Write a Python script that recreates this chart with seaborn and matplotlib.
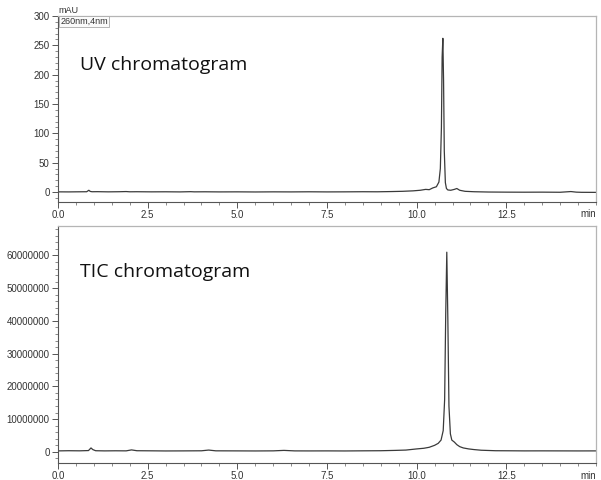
import numpy as np
import pandas as pd
import matplotlib
matplotlib.use("Agg")
import matplotlib.pyplot as plt
import matplotlib.ticker as ticker
import seaborn as sns

# UV trace (260 nm), retention time in min, absorbance in mAU
uv_time = [0.0, 0.3, 0.6, 0.8, 0.86, 0.9, 0.95, 1.1, 1.4, 1.7, 1.9, 2.0, 2.2, 2.6,
           3.0, 3.4, 3.7, 3.8, 4.1, 4.5, 5.0, 5.5, 6.0, 6.5, 7.0, 7.5, 8.0, 8.5,
           8.9, 9.3, 9.6, 9.9, 10.1, 10.25, 10.35, 10.45, 10.55, 10.62, 10.66,
           10.69, 10.71, 10.73, 10.75, 10.77, 10.8, 10.83, 10.87, 10.95, 11.05,
           11.12, 11.2, 11.35, 11.6, 12.0, 12.5, 13.0, 13.5, 14.0, 14.3, 14.45,
           14.6, 15.0]
uv_mau = [0.3, 0.2, 0.4, 0.5, 3.0, 1.0, 0.5, 0.6, 0.3, 0.5, 0.8, 0.4, 0.5, 0.3,
          0.4, 0.2, 0.6, 0.3, 0.4, 0.2, 0.3, 0.1, 0.3, 0.2, 0.4, 0.2, 0.3, 0.5,
          0.4, 0.8, 1.2, 2.0, 3.0, 4.5, 4.0, 7.0, 9.0, 17.0, 40.0,
          110.0, 230.0, 262.0, 190.0, 70.0, 16.0, 6.0, 3.5, 3.0, 4.5,
          6.0, 3.0, 1.2, 0.5, 0.0, -0.2, -0.3, -0.2, -0.4, 0.8, -0.2,
          -0.5, -0.6]

# TIC trace, retention time in min, total ion counts
tic_time = [0.0, 0.3, 0.6, 0.85, 0.92, 0.97, 1.05, 1.3, 1.6, 1.9, 2.05, 2.2, 2.6,
            3.0, 3.5, 4.0, 4.2, 4.4, 5.0, 5.5, 6.0, 6.3, 6.6, 7.0, 7.5, 8.0,
            8.5, 9.0, 9.4, 9.7, 10.0, 10.2, 10.35, 10.5, 10.6, 10.68, 10.74,
            10.78, 10.81, 10.84, 10.87, 10.9, 10.94, 10.98, 11.05, 11.12, 11.2,
            11.3, 11.45, 11.6, 11.8, 12.2, 12.6, 13.0, 13.5, 14.0, 14.5, 15.0]
tic_counts = [300000, 350000, 320000, 400000, 1200000, 700000, 350000, 300000,
              330000, 310000, 600000, 350000, 320000, 280000, 300000, 330000,
              550000, 320000, 300000, 280000, 310000, 450000, 300000, 290000,
              300000, 280000, 320000, 350000, 450000, 550000, 900000, 1100000,
              1400000, 2000000, 2600000, 3600000, 6500000, 16000000, 42000000,
              61000000, 40000000, 14000000, 5500000, 3600000, 3000000, 2200000,
              1600000, 1200000, 900000, 700000, 500000, 350000, 330000, 300000,
              310000, 300000, 290000, 300000]

x_ticks = [0.0, 2.5, 5.0, 7.5, 10.0, 12.5]

sns.set_style("ticks")
plt.rcParams['font.family'] = ['Liberation Sans', 'DejaVu Sans']

uv = pd.DataFrame({'time': uv_time, 'signal': uv_mau})
tic = pd.DataFrame({'time': tic_time, 'signal': tic_counts})

fig = plt.figure(figsize=(6.01, 4.8), dpi=100)
W, H = 601.0, 480.0
ax1 = fig.add_axes([58 / W, 1 - 202 / H, 538 / W, 186 / H])
ax2 = fig.add_axes([58 / W, 1 - 463 / H, 538 / W, 237 / H])

line_col = '#3a3a3a'
sns.lineplot(data=uv, x='time', y='signal', ax=ax1, color=line_col, linewidth=0.9)
sns.lineplot(data=tic, x='time', y='signal', ax=ax2, color=line_col, linewidth=0.9)

for ax in (ax1, ax2):
    ax.set_xlim(0, 15)
    ax.set_xlabel('')
    ax.set_ylabel('')
    ax.set_xticks(x_ticks)
    ax.xaxis.set_major_formatter(ticker.FormatStrFormatter('%.1f'))
    ax.xaxis.set_minor_locator(ticker.MultipleLocator(0.5))
    ax.tick_params(which='major', direction='out', length=4, width=0.7,
                   color='#555555', labelsize=7, labelcolor='#333333', pad=2)
    ax.tick_params(which='minor', direction='out', length=2, width=0.6,
                   color='#777777')
    for side in ('top', 'right'):
        ax.spines[side].set_visible(True)
        ax.spines[side].set_color('#b5b5b5')
        ax.spines[side].set_linewidth(0.9)
    for side in ('left', 'bottom'):
        ax.spines[side].set_color('#555555')
        ax.spines[side].set_linewidth(0.8)
    ax.text(0.985, -0.035, 'min', transform=ax.transAxes, ha='center', va='top',
            fontsize=7, color='#333333')

ax1.set_ylim(-17, 300)
ax1.set_yticks(range(0, 301, 50))
ax1.yaxis.set_minor_locator(ticker.MultipleLocator(10))
ax1.yaxis.set_major_formatter(ticker.FormatStrFormatter('%d'))

ax2.set_ylim(-3400000, 69000000)
ax2.set_yticks(range(0, 60000001, 10000000))
ax2.yaxis.set_minor_locator(ticker.MultipleLocator(2000000))
ax2.yaxis.set_major_formatter(ticker.FuncFormatter(lambda v, p: '%d' % v))

ax1.text(0.0, 1.005, 'mAU', transform=ax1.transAxes, ha='left', va='bottom',
         fontsize=6.5, color='#333333')
ax1.text(0.004, 0.995, '260nm,4nm', transform=ax1.transAxes, ha='left', va='top',
         fontsize=6.5, color='#333333',
         bbox=dict(boxstyle='square,pad=0.12', fc='#fafafa', ec='#aaaaaa', lw=0.6))

ax1.text(0.04, 0.71, 'UV chromatogram', transform=ax1.transAxes, ha='left',
         va='baseline', fontsize=14, color='#111111', family=['Open Sans', 'DejaVu Sans'])
ax2.text(0.04, 0.785, 'TIC chromatogram', transform=ax2.transAxes, ha='left',
         va='baseline', fontsize=14, color='#111111', family=['Open Sans', 'DejaVu Sans'])

fig.savefig('out.png', dpi=100)
